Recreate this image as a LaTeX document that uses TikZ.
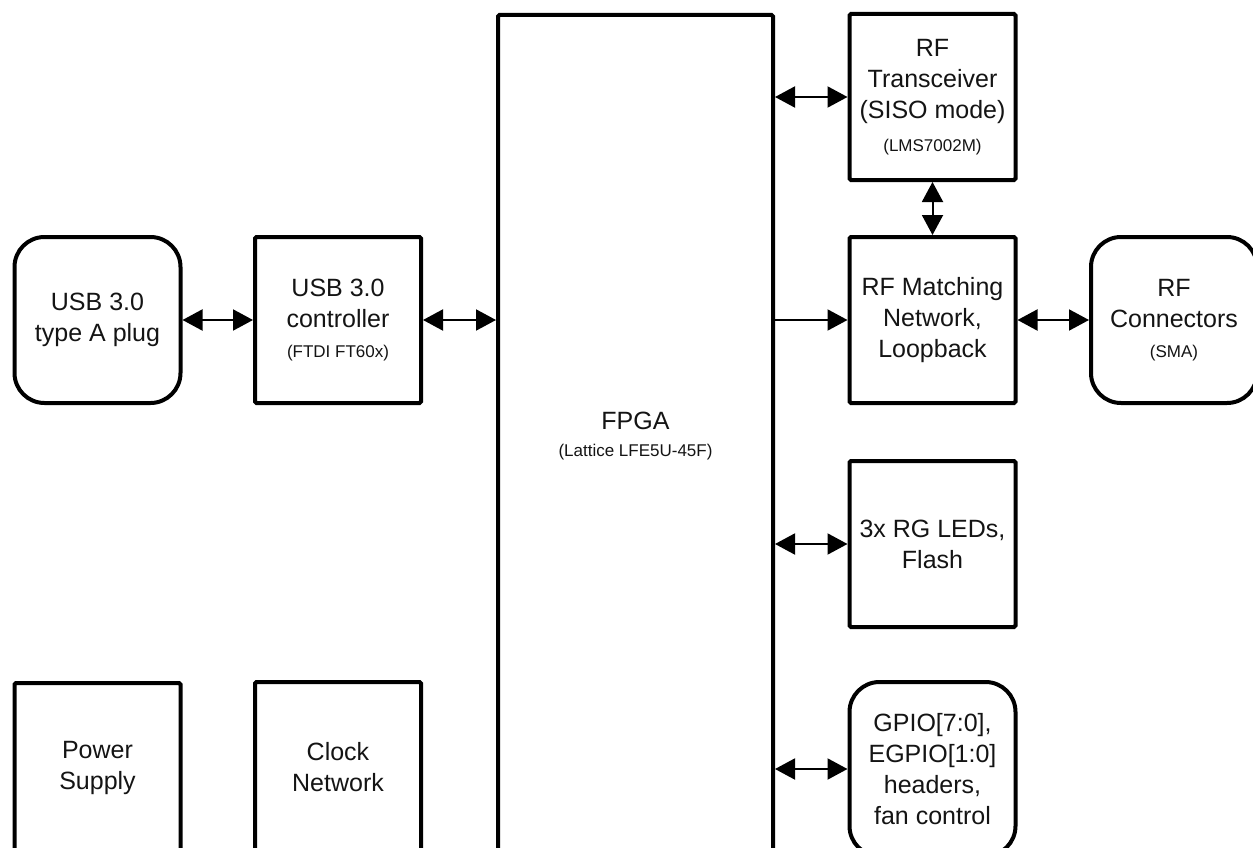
\documentclass[tikz,border=0pt]{standalone}
\usepackage{fontspec}
\setmainfont{Liberation Sans}
\usetikzlibrary{arrows.meta}
\newcommand\mainfs{\fontsize{25}{31}\selectfont}
\newcommand\subfs{\fontsize{17}{20}\selectfont}
\begin{document}
\begin{tikzpicture}[x=1pt,y=-1pt,
  box/.style={draw=black, line width=4pt, minimum width=166pt, minimum height=166pt,
    align=center, font=\mainfs, inner sep=0pt, rounded corners=1.5pt, text=black!92},
  rbox/.style={box, rounded corners=30pt},
  link/.style={line width=2pt, {Triangle[length=20pt,width=21pt]}-{Triangle[length=20pt,width=21pt]}},
  onelink/.style={line width=2pt, -{Triangle[length=20pt,width=21pt]}}]
\useasboundingbox (0,0) rectangle (1253,848);
\clip (0,0) rectangle (1253,848);

\node[rbox] (plug) at (97.5,320) {USB 3.0\\type A plug};
\node[box] (ctrl) at (338,320) {USB 3.0\\controller\\[-1pt]{\subfs (FTDI FT60x)}};
\node[box, minimum width=275pt, minimum height=842pt] (fpga) at (635.5,436) {FPGA\\[-4pt]{\subfs (Lattice LFE5U-45F)}};
\node[box] (trx) at (932.5,97) {RF\\Transceiver\\(SISO mode)\\[2pt]{\subfs (LMS7002M)}};
\node[box] (match) at (932.5,320) {RF Matching\\Network,\\Loopback};
\node[rbox] (conn) at (1174,320) {RF\\Connectors\\[-1pt]{\subfs (SMA)}};
\node[box] (leds) at (932.5,544) {3x RG LEDs,\\Flash};
\node[rbox, minimum height=174pt] (gpio) at (932.5,769) {GPIO[7:0],\\EGPIO[1:0]\\headers,\\fan control};
\node[box, minimum height=170pt] (psu) at (97.5,768) {Power\\Supply};
\node[box, minimum height=170pt] (clk) at (338,767) {Clock\\Network};

\draw[link] (plug) -- (ctrl);
\draw[link] (ctrl) -- (ctrl -| fpga.west);
\draw[link] (fpga.east |- trx.west) -- (trx.west);
\draw[onelink] (fpga.east |- match.west) -- (match.west);
\draw[link] (match) -- (conn);
\draw[link] (trx) -- (match);
\draw[link] (fpga.east |- leds.west) -- (leds.west);
\draw[link] (fpga.east |- gpio.west) -- (gpio.west);
\end{tikzpicture}
\end{document}
